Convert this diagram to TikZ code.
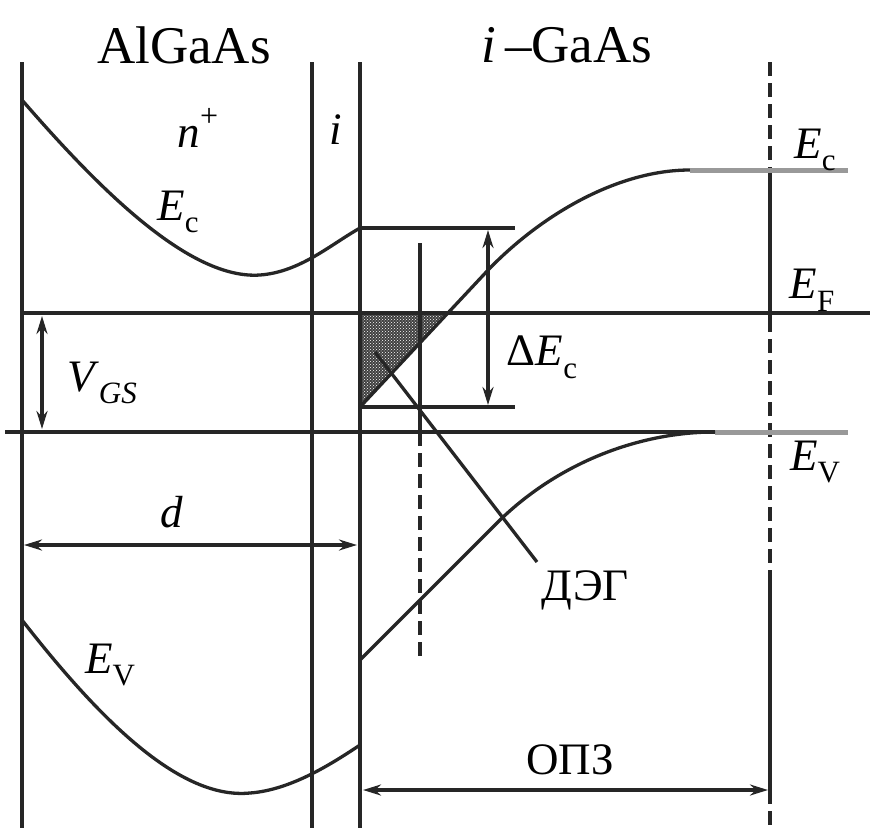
\documentclass[tikz,border=0pt]{standalone}
\usepackage{fontspec}
\setmainfont{Liberation Serif}
\usetikzlibrary{arrows.meta,patterns}
\tikzset{
  ln/.style={line width=3.3pt, black!85},
  grayln/.style={line width=5pt, black!40},
  dsh/.style={ln, dash pattern=on 14pt off 7pt},
  dimarr/.style={line width=3.3pt, black!85, {Stealth[length=18pt,width=11pt]}-{Stealth[length=18pt,width=11pt]}},
  lbl/.style={font=\fontsize{45}{45}\selectfont, inner sep=0pt},
  big/.style={font=\fontsize{53}{53}\selectfont, inner sep=0pt}
}
\newcommand{\lsub}[1]{\raisebox{-0.28em}{\fontsize{31}{31}\selectfont #1}}
\begin{document}
\begin{tikzpicture}[x=1pt,y=-1pt]
\useasboundingbox (0,0) rectangle (870,828);
% hatched 2DEG triangle
\fill[black!75] (360,315) -- (447,315) -- (360,407) -- cycle;
\fill[pattern=crosshatch dots, pattern color=white] (360,315) -- (447,315) -- (360,407) -- cycle;
% vertical lines
\draw[ln] (22,62) -- (22,828);
\draw[ln] (312,62) -- (312,828);
\draw[ln] (360,62) -- (360,828);
\draw[dsh] (770,62) -- (770,168);
\draw[ln] (770,168) -- (770,318);
\draw[dsh] (770,318) -- (770,570);
\draw[ln] (770,570) -- (770,790);
\draw[dsh] (770,790) -- (770,828);
\draw[ln] (420,243) -- (420,432);
\draw[dsh] (420,432) -- (420,657);
% horizontal lines
\draw[ln] (22,313) -- (870,313);
\draw[ln] (5,432) -- (715,432);
\draw[grayln] (715,432) -- (848,432);
\draw[ln] (360,228) -- (515,228);
\draw[ln] (360,407) -- (515,407);
% AlGaAs bands
\draw[ln] (22,100) .. controls (100,190) and (190,280) .. (260,275) .. controls (300,272) and (330,245) .. (360,228);
\draw[ln] (22,620) .. controls (100,720) and (180,800) .. (250,793) .. controls (290,790) and (330,765) .. (360,745);
% GaAs bands
\draw[ln] (360,407) -- (490,268) .. controls (545,212) and (620,170) .. (690,170);
\draw[grayln] (690,170) -- (848,170);
\draw[ln] (360,660) -- (500,520) .. controls (560,462) and (640,432) .. (715,432);
% 2DEG pointer
\coordinate (p0) at (375,352);
\coordinate (p1) at (537,562);
\draw[ln] (p0) -- (p1);
% dimension arrows
\coordinate (dEa) at (488,230); \coordinate (dEb) at (488,405);
\draw[dimarr] (dEa) -- (dEb);
\coordinate (va) at (42,316); \coordinate (vb) at (42,429);
\draw[dimarr] (va) -- (vb);
\coordinate (da) at (24,545); \coordinate (db) at (357,545);
\draw[dimarr] (da) -- (db);
\coordinate (oa) at (363,790); \coordinate (ob) at (768,790);
\draw[dimarr] (oa) -- (ob);
% labels
\node[big] (algaas) at (184,45) {AlGaAs};
\node[big] (igaas) at (567,45) {\textit{i}\,–GaAs};
\node[lbl] (nplus) at (198,128) {\textit{n}\raisebox{0.45em}{\fontsize{32}{32}\selectfont +}};
\node[lbl] (ilay) at (336,130) {\textit{i}};
\node[lbl] (ecl) at (178,212) {\textit{E}\lsub{c}};
\node[lbl] (ecr) at (815,150) {\textit{E}\lsub{c}};
\node[lbl] (ef) at (812,290) {\textit{E}\lsub{F}};
\node[lbl] (evr) at (815,462) {\textit{E}\lsub{V}};
\node[lbl] (dec) at (542,357) {Δ\textit{E}\lsub{c}};
\node[lbl] (vgs) at (102,383) {\textit{V}\lsub{\textit{GS}}};
\node[lbl] (dlab) at (172,512) {\textit{d}};
\node[lbl] (deg) at (585,590) {ДЭГ};
\node[lbl] (opz) at (570,760) {ОПЗ};
\node[lbl] (evl) at (110,665) {\textit{E}\lsub{V}};
\end{tikzpicture}
\end{document}
